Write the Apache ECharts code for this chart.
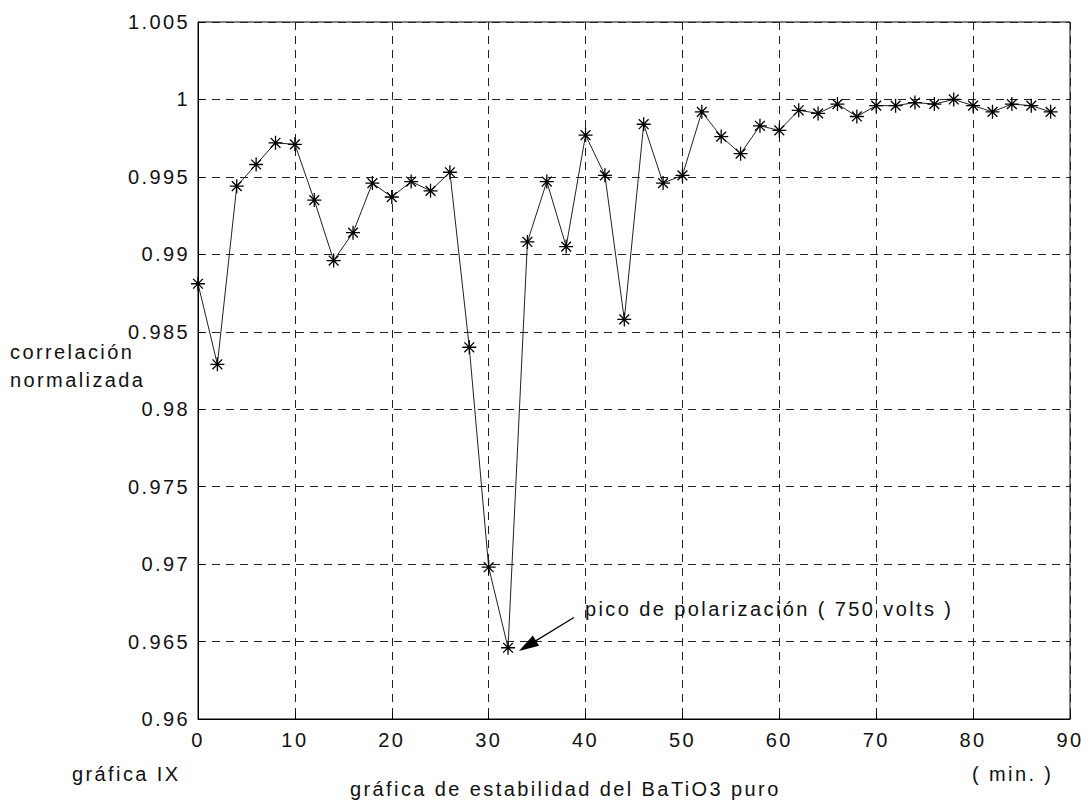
<!DOCTYPE html>
<html>
<head>
<meta charset="utf-8">
<title>gráfica de estabilidad del BaTiO3 puro</title>
<script src="https://cdn.jsdelivr.net/npm/echarts@6/dist/echarts.min.js"></script>
<style>
  html, body { margin: 0; padding: 0; background: #fff; }
  #chart { width: 1091px; height: 802px; }
  /* the scanned original uses widely spaced lettering */
  #chart svg text { letter-spacing: 2.4px; }
</style>
</head>
<body>
<div id="chart"></div>
<script>
// tiempo (min.)
const minutes = [0, 2, 4, 6, 8, 10, 12, 14, 16, 18, 20, 22, 24, 26, 28, 30, 32, 34, 36, 38,
  40, 42, 44, 46, 48, 50, 52, 54, 56, 58, 60, 62, 64, 66, 68, 70, 72, 74, 76, 78,
  80, 82, 84, 86, 88]
// correlación normalizada
const correlation = [0.9881, 0.9829, 0.9944, 0.9958, 0.9972, 0.9971, 0.9935, 0.9896, 0.9914, 0.9946,
  0.9937, 0.9947, 0.9941, 0.9953, 0.9840, 0.9698, 0.9646, 0.9908, 0.9947, 0.9905,
  0.9977, 0.9951, 0.9858, 0.9984, 0.9946, 0.9951, 0.9992, 0.9976, 0.9965, 0.9983,
  0.9980, 0.9993, 0.9991, 0.9997, 0.9989, 0.9996, 0.9996, 0.9998, 0.9997, 1.0000,
  0.9996, 0.9992, 0.9997, 0.9996, 0.9992]
// flecha de la anotación: [x, y] de la cola y de la punta
const arrowFrom = [38.8, 0.96655]
const arrowTo = [34.0, 0.96472]
const annotation = 'pico de polarización ( 750 volts )'

const FONT = '"Liberation Sans", Arial, sans-serif'
const ASTERISK = 'path://M0,-10L0,10M-10,0L10,0M-7,-7L7,7M-7,7L7,-7'

const chart = echarts.init(document.getElementById('chart'), null, { renderer: 'svg' })

chart.setOption({
  animation: false,
  backgroundColor: '#fff',
  grid: {
    left: 198, right: 21, top: 22, bottom: 83,
    show: true, borderColor: '#000', borderWidth: 1
  },
  xAxis: {
    type: 'value',
    min: 0, max: 90, interval: 10,
    axisLine: { lineStyle: { color: '#000', width: 1 } },
    axisTick: { inside: true, length: 6, lineStyle: { color: '#000' } },
    axisLabel: { color: '#111', fontFamily: FONT, fontSize: 20, margin: 11 },
    splitLine: { show: true, lineStyle: { color: '#222', type: [8, 6], width: 1 } }
  },
  yAxis: {
    type: 'value',
    min: 0.96, max: 1.005, interval: 0.005,
    axisLine: { show: true, lineStyle: { color: '#000', width: 1 } },
    axisTick: { show: true, inside: true, length: 6, lineStyle: { color: '#000' } },
    axisLabel: {
      color: '#111', fontFamily: FONT, fontSize: 20, margin: 8,
      formatter: v => String(+v.toFixed(3))
    },
    splitLine: { show: true, lineStyle: { color: '#222', type: [8, 6], width: 1 } }
  },
  series: [{
    type: 'line',
    data: minutes.map((m, i) => [m, correlation[i]]),
    symbol: ASTERISK,
    symbolSize: 14,
    showAllSymbol: true,
    lineStyle: { color: '#222', width: 1 },
    itemStyle: { color: 'none', borderColor: '#000', borderWidth: 1.3 },
    markLine: {
      silent: true,
      symbol: ['none', 'triangle'],
      symbolSize: [12, 20],
      label: { show: false },
      lineStyle: { color: '#000', width: 1.3, type: 'solid' },
      data: [[{ coord: arrowFrom }, { coord: arrowTo }]]
    }
  }],
  graphic: [
    { type: 'text', left: 585, top: 599, style: { text: annotation, font: '20px ' + FONT, fill: '#111' } },
    { type: 'text', left: 10, top: 338, style: { text: 'correlación\nnormalizada', font: '20px ' + FONT, fill: '#111', lineHeight: 28 } },
    { type: 'text', left: 72, top: 764, style: { text: 'gráfica IX', font: '20px ' + FONT, fill: '#111' } },
    { type: 'text', left: 350, top: 779, style: { text: 'gráfica de estabilidad del BaTiO3 puro', font: '20px ' + FONT, fill: '#111' } },
    { type: 'text', left: 972, top: 764, style: { text: '( min. )', font: '20px ' + FONT, fill: '#111' } }
  ]
})
</script>
</body>
</html>
